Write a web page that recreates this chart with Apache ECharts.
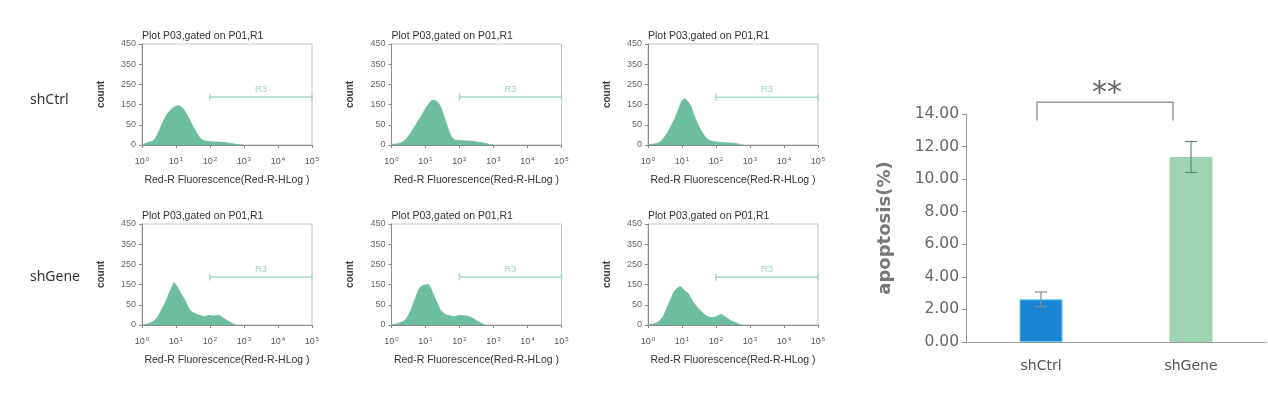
<!DOCTYPE html>
<html>
<head>
<meta charset="utf-8">
<script src="https://cdn.jsdelivr.net/npm/echarts@6/dist/echarts.min.js"></script>
<style>
html,body{margin:0;padding:0;background:#fff;}
#main{width:1268px;height:394px;}
</style>
</head>
<body>
<div id="main"></div>
<script>
// ---------------- DATA ----------------
const rowLabels = ['shCtrl', 'shGene'];
const plotTitle = 'Plot P03,gated on P01,R1';
const histXName = 'Red-R Fluorescence(Red-R-HLog )';
const histYName = 'count';
const histYTickLabels = ['0', '50', '150', '250', '350', '450'];
const histXDecades = [0, 1, 2, 3, 4, 5];

// histogram outlines: [log10(fluorescence), plotted count level]
const hist_shCtrl_1 = [[0,0],[0.05,4],[0.17,12],[0.3,18],[0.38,28],[0.46,54],[0.54,84],[0.61,112],[0.69,138],[0.76,158],[0.83,172],[0.9,183],[1.0,192],[1.05,196],[1.1,195],[1.15,191],[1.2,182],[1.25,170],[1.32,150],[1.39,129],[1.46,104],[1.54,80],[1.62,56],[1.69,38],[1.76,27],[1.83,21],[1.93,18],[2.03,16],[2.18,15],[2.33,13],[2.48,11],[2.62,8],[2.72,5],[2.81,2],[2.9,1],[3.0,0]];
const hist_shCtrl_2 = [[0,3],[0.15,5],[0.28,10],[0.36,18],[0.43,30],[0.5,45],[0.58,63],[0.65,83],[0.73,104],[0.8,124],[0.88,145],[0.95,166],[1.02,186],[1.1,204],[1.17,219],[1.22,224],[1.27,222],[1.32,217],[1.37,211],[1.42,196],[1.47,178],[1.52,154],[1.57,129],[1.62,103],[1.67,79],[1.72,56],[1.77,38],[1.82,29],[1.86,25],[1.98,22],[2.11,21],[2.26,20],[2.41,18],[2.55,14],[2.7,10],[2.8,6],[2.9,2],[3.0,0]];
const hist_shCtrl_3 = [[0,2],[0.15,4],[0.31,10],[0.38,20],[0.46,33],[0.53,50],[0.61,71],[0.68,95],[0.76,120],[0.83,149],[0.9,178],[0.95,200],[1.0,219],[1.04,228],[1.07,231],[1.11,227],[1.15,219],[1.2,208],[1.25,195],[1.3,175],[1.34,153],[1.39,132],[1.44,112],[1.51,87],[1.59,63],[1.66,45],[1.74,30],[1.81,22],[1.88,18],[2.0,15],[2.13,13],[2.28,11],[2.42,10],[2.57,7],[2.72,3],[2.81,0]];
const hist_shGene_1 = [[0,0],[0.07,2],[0.17,6],[0.27,12],[0.34,19],[0.41,28],[0.48,45],[0.56,69],[0.63,93],[0.71,119],[0.78,148],[0.85,177],[0.9,196],[0.95,210],[1.0,202],[1.05,186],[1.1,169],[1.17,148],[1.25,127],[1.32,102],[1.39,78],[1.46,66],[1.54,58],[1.61,52],[1.69,48],[1.76,44],[1.83,41],[1.9,44],[1.98,48],[2.05,45],[2.13,44],[2.2,47],[2.28,48],[2.33,43],[2.37,36],[2.45,28],[2.52,20],[2.6,13],[2.67,7],[2.72,3],[2.77,0]];
const hist_shGene_2 = [[0,2],[0.14,5],[0.28,12],[0.36,19],[0.43,28],[0.5,50],[0.58,78],[0.65,110],[0.73,144],[0.78,165],[0.83,185],[0.88,190],[0.92,196],[0.97,205],[1.0,198],[1.04,193],[1.09,201],[1.13,190],[1.17,177],[1.22,157],[1.27,136],[1.35,106],[1.42,78],[1.5,63],[1.57,53],[1.64,48],[1.72,45],[1.79,43],[1.86,41],[1.94,45],[2.01,48],[2.11,46],[2.21,44],[2.29,41],[2.36,36],[2.44,28],[2.51,20],[2.59,13],[2.66,7],[2.71,3],[2.76,0]];
const hist_shGene_3 = [[0,0],[0.1,3],[0.2,7],[0.29,13],[0.37,25],[0.44,41],[0.52,68],[0.59,99],[0.67,128],[0.74,157],[0.81,174],[0.88,185],[0.95,190],[1.02,180],[1.08,168],[1.13,162],[1.18,157],[1.25,136],[1.32,115],[1.4,98],[1.47,83],[1.55,70],[1.62,58],[1.69,48],[1.76,41],[1.84,37],[1.91,36],[1.99,40],[2.06,46],[2.11,50],[2.16,53],[2.21,48],[2.26,41],[2.33,33],[2.4,25],[2.48,18],[2.55,13],[2.63,7],[2.7,3],[2.79,0]];

const gateName = 'R3';
const gateRange = [2, 5];            // log10 decades
const gateLevels = [238, 238, 236, 238, 238, 236];

const barCategories = ['shCtrl', 'shGene'];
const barMeans = [2.62, 11.36];
const barErrors = [0.45, 0.95];
const barYName = 'apoptosis(%)';
const sigLabel = '**';
const sigBracket = [0, 1, 13.6, 14.72]; // from cat, to cat, foot level, top level

// ---------------- LAYOUT / STYLE ----------------
const histPanels = [hist_shCtrl_1, hist_shCtrl_2, hist_shCtrl_3, hist_shGene_1, hist_shGene_2, hist_shGene_3];
const colLefts = [142, 391.5, 648];
const rowTops = [44, 224];
const PW = 170, PH = 101;
const fillColor = '#6dbd9f';
const gateColor = '#a9d6c6';
const flowFont = 'Liberation Sans';
const barFont = 'DejaVu Sans';
const barColors = ['#1a86d3', '#9dd3b1'];
const barBorders = ['#5ac8f5', '#9dd3b1'];
const errColors = ['#7f8f95', '#5f8a70'];

const grid = [], xAxis = [], yAxis = [], series = [], title = [];

rowLabels.forEach((t, r) => {
  title.push({text: t, left: 30, top: [93, 270][r], padding: 0,
    textStyle: {fontFamily: 'Noto Sans', fontSize: 14, fontWeight: 'normal', color: '#333'}});
});

histPanels.forEach((data, i) => {
  const r = Math.floor(i / 3), c = i % 3;
  grid.push({left: colLefts[c], top: rowTops[r], width: PW, height: PH,
    show: true, borderColor: '#c4c4c4', borderWidth: 1, backgroundColor: 'transparent'});
  title.push({text: plotTitle, left: colLefts[c], top: rowTops[r] - 13, padding: 0,
    textStyle: {fontFamily: flowFont, fontSize: 10.5, fontWeight: 'normal', color: '#333'}});
  xAxis.push({type: 'value', gridIndex: i, min: 0, max: 5, interval: 1,
    name: histXName, nameLocation: 'middle', nameGap: 30,
    nameTextStyle: {fontFamily: flowFont, fontSize: 10.5, color: '#333'},
    axisLine: {show: true, lineStyle: {color: '#8a8a8a', width: 1}},
    axisTick: {show: true, length: 3, lineStyle: {color: '#8a8a8a'}},
    splitLine: {show: false},
    axisLabel: {margin: 11, color: '#555', fontFamily: flowFont,
      formatter: v => '{b|10}{s|' + histXDecades[v] + '}',
      rich: {b: {fontSize: 9, fontFamily: flowFont, color: '#555'},
             s: {fontSize: 6, fontFamily: flowFont, color: '#555', padding: [0, 0, 5, 1]}}}
  });
  yAxis.push({type: 'value', gridIndex: i, min: 0, max: 500, interval: 100,
    name: histYName, nameLocation: 'middle', nameGap: 36, nameRotate: 90,
    nameTextStyle: {fontFamily: flowFont, fontSize: 10, fontWeight: 'bold', color: '#444'},
    axisLine: {show: true, lineStyle: {color: '#8a8a8a', width: 1}},
    axisTick: {show: true, length: 3, lineStyle: {color: '#8a8a8a'}},
    splitLine: {show: false},
    axisLabel: {margin: 6, color: '#666', fontFamily: flowFont, fontSize: 9,
      formatter: v => histYTickLabels[Math.round(v / 100)]}
  });
  series.push({type: 'line', xAxisIndex: i, yAxisIndex: i, data: data,
    symbol: 'none', smooth: false, lineStyle: {color: fillColor, width: 0.8},
    areaStyle: {color: fillColor, opacity: 1}, silent: true, z: 2});
  series.push({type: 'line', xAxisIndex: i, yAxisIndex: i,
    data: [[gateRange[0], gateLevels[i]], [gateRange[1], gateLevels[i]]],
    symbol: 'rect', symbolSize: [1.5, 7], showSymbol: true,
    itemStyle: {color: gateColor}, lineStyle: {color: gateColor, width: 1.5},
    silent: true, z: 3, clip: false});
  series.push({type: 'scatter', xAxisIndex: i, yAxisIndex: i,
    data: [[(gateRange[0] + gateRange[1]) / 2, gateLevels[i]]],
    symbolSize: 0, silent: true,
    label: {show: true, position: 'top', distance: 3, formatter: gateName,
      fontFamily: flowFont, fontSize: 9.5, color: '#82c8b0'}});
});

// ---------------- BAR CHART ----------------
const bi = 6;
grid.push({left: 966, width: 300, top: 114, height: 228});
xAxis.push({type: 'category', gridIndex: bi, data: barCategories,
  axisLine: {show: true, lineStyle: {color: '#9a9a9a', width: 1}},
  axisTick: {show: false},
  axisLabel: {margin: 17, fontFamily: barFont, fontSize: 14, color: '#555'}});
yAxis.push({type: 'value', gridIndex: bi, min: 0, max: 14, interval: 2,
  name: barYName, nameLocation: 'middle', nameRotate: 90, nameGap: 72,
  nameTextStyle: {fontFamily: barFont, fontSize: 18, fontWeight: 'bold', color: '#777'},
  axisLine: {show: true, lineStyle: {color: '#9a9a9a', width: 1}},
  axisTick: {show: true, length: 4, lineStyle: {color: '#9a9a9a'}},
  splitLine: {show: false},
  axisLabel: {margin: 7, fontFamily: barFont, fontSize: 15.5, color: '#666',
    formatter: v => v.toFixed(2)}});

series.push({type: 'bar', xAxisIndex: bi, yAxisIndex: bi, barWidth: 43,
  data: barMeans.map((v, k) => ({value: v,
    itemStyle: {color: barColors[k], borderColor: barBorders[k], borderWidth: 1}})),
  silent: true, z: 2});

series.push({type: 'custom', xAxisIndex: bi, yAxisIndex: bi, silent: true, z: 5,
  data: barMeans.map((m, k) => [k, m - barErrors[k], m + barErrors[k]]),
  encode: {x: 0, y: [1, 2]},
  renderItem: (params, api) => {
    const k = api.value(0);
    const lo = api.coord([k, api.value(1)]);
    const hi = api.coord([k, api.value(2)]);
    const w = 6;
    const st = {stroke: errColors[k], lineWidth: 1.2};
    return {type: 'group', children: [
      {type: 'line', shape: {x1: lo[0], y1: lo[1], x2: hi[0], y2: hi[1]}, style: st},
      {type: 'line', shape: {x1: hi[0] - w, y1: hi[1], x2: hi[0] + w, y2: hi[1]}, style: st},
      {type: 'line', shape: {x1: lo[0] - w, y1: lo[1], x2: lo[0] + w, y2: lo[1]}, style: st}
    ]};
  }});

series.push({type: 'custom', xAxisIndex: bi, yAxisIndex: bi, silent: true, z: 5,
  data: [sigBracket], encode: {x: [0, 1], y: [2, 3]},
  renderItem: (params, api) => {
    const pA = api.coord([api.value(0), api.value(3)]);
    const pB = api.coord([api.value(1), api.value(3)]);
    const foot = api.coord([api.value(0), api.value(2)])[1];
    const xL = pA[0] - 4, xR = pB[0] - 18, yT = pA[1];
    return {type: 'group', children: [
      {type: 'polyline', shape: {points: [[xL, foot], [xL, yT], [xR, yT], [xR, foot]]},
        style: {stroke: '#9a9a9a', lineWidth: 1.5, fill: null}},
      {type: 'text', x: (xL + xR) / 2 + 2, y: yT - 8,
        style: {text: sigLabel, fontFamily: barFont, fontSize: 30, fill: '#666',
          align: 'center', verticalAlign: 'middle'}}
    ]};
  }});

const chart = echarts.init(document.getElementById('main'), null, {renderer: 'canvas'});
chart.setOption({animation: false, backgroundColor: '#fff', title, grid, xAxis, yAxis, series});
</script>
</body>
</html>
